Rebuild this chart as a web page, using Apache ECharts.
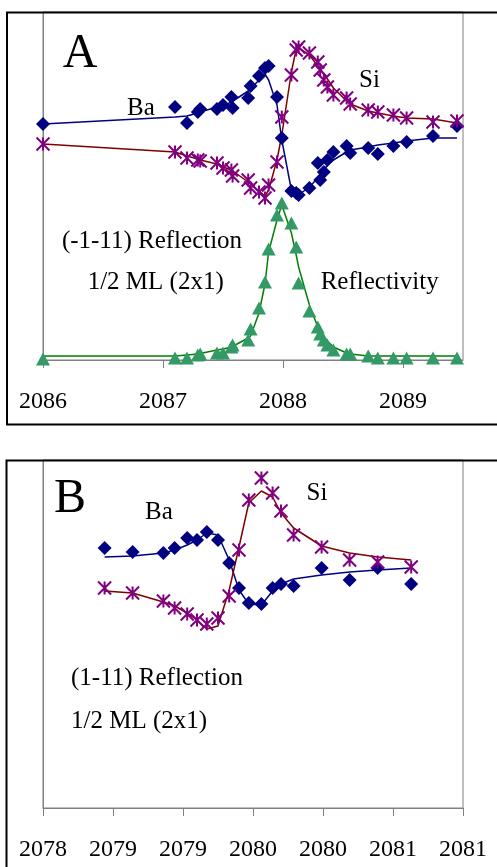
<!DOCTYPE html>
<html>
<head>
<meta charset="utf-8">
<script src="https://cdn.jsdelivr.net/npm/echarts@6/dist/echarts.min.js"></script>
<style>
  html, body { margin: 0; padding: 0; background: #fff; }
  #chart { width: 497px; height: 867px; }
</style>
</head>
<body>
<div id="chart"></div>
<script>
// panel A: (-1-11) reflection, photon energy (eV)
var xA = [2086.00, 2087.10, 2087.20, 2087.29, 2087.31, 2087.45, 2087.50, 2087.57, 2087.58, 2087.71, 2087.73,
  2087.80, 2087.85, 2087.88, 2087.95, 2087.99, 2088.07, 2088.11, 2088.13, 2088.22, 2088.29, 2088.31,
  2088.34, 2088.37, 2088.42, 2088.53, 2088.56, 2088.71, 2088.79, 2088.92, 2089.03, 2089.25, 2089.45];
var baA = [2.36, 2.53, 2.37, 2.48, 2.51, 2.51, 2.55, 2.63, 2.52, 2.62, 2.74, 2.84, 2.92, 2.94, 2.63, 2.22,
  1.69, 1.67, 1.65, 1.72, 1.97, 1.80, 1.88, 2.00, 2.08, 2.14, 2.07, 2.12, 2.06, 2.14, 2.18, 2.24, 2.34];
var baFitA = [2.36, 2.43, 2.44, 2.47, 2.48, 2.53, 2.54, 2.58, 2.59, 2.69, 2.71, 2.80, 2.86, 2.80, 2.55, 2.20,
  1.70, 1.66, 1.65, 1.73, 1.82, 1.83, 1.89, 1.95, 2.00, 2.08, 2.10, 2.13, 2.15, 2.17, 2.19, 2.22, 2.22];
var siA = [2.16, 2.08, 2.02, 2.00, 1.99, 1.97, 1.92, 1.90, 1.84, 1.80, 1.72, 1.68, 1.62, 1.75, 1.98, 2.43,
  2.85, 3.10, 3.13, 3.07, 2.98, 2.90, 2.80, 2.73, 2.65, 2.62, 2.56, 2.50, 2.48, 2.45, 2.42, 2.38, 2.39];
var siFitA = [2.16, 2.08, 2.04, 2.01, 2.00, 1.96, 1.93, 1.90, 1.90, 1.78, 1.76, 1.69, 1.64, 1.70, 2.00, 2.25,
  2.88, 3.11, 3.12, 3.05, 2.94, 2.91, 2.86, 2.81, 2.72, 2.59, 2.56, 2.49, 2.47, 2.44, 2.42, 2.41, 2.37];
var refA = [0.01, 0.02, 0.02, 0.05, 0.06, 0.07, 0.07, 0.13, 0.15, 0.20, 0.31, 0.52, 0.78, 1.11, 1.45, 1.57,
  1.37, 1.13, 0.77, 0.49, 0.33, 0.26, 0.20, 0.15, 0.10, 0.06, 0.06, 0.04, 0.02, 0.02, 0.02, 0.02, 0.02];
var refFitA = [0.04, 0.04, 0.05, 0.06, 0.065, 0.10, 0.11, 0.13, 0.13, 0.22, 0.24, 0.47, 0.76, 1.08, 1.40, 1.55,
  1.27, 1.05, 0.93, 0.55, 0.33, 0.29, 0.23, 0.19, 0.13, 0.07, 0.06, 0.04, 0.04, 0.04, 0.04, 0.04, 0.04];

// panel B: (1-11) reflection
var xB = [2078.44, 2078.64, 2078.86, 2078.94, 2079.03, 2079.10, 2079.17, 2079.25, 2079.33, 2079.40,
  2079.47, 2079.56, 2079.64, 2079.70, 2079.79, 2079.99, 2080.19, 2080.39, 2080.63];
var baB = [2.60, 2.56, 2.55, 2.60, 2.70, 2.68, 2.76, 2.68, 2.45, 2.20, 2.05, 2.04, 2.20, 2.24, 2.22, 2.40, 2.28, 2.40, 2.24];
var baFitB = [2.51, 2.52, 2.55, 2.58, 2.63, 2.68, 2.75, 2.73, 2.48, 2.18, 2.04, 2.03, 2.17, 2.24, 2.29, 2.33, 2.36, 2.38, 2.40];
var siB = [2.20, 2.15, 2.07, 2.00, 1.94, 1.88, 1.84, 1.90, 2.12, 2.58, 3.08, 3.30, 3.15, 2.97, 2.73, 2.61, 2.48, 2.46, 2.41];
var siFitB = [2.17, 2.15, 2.06, 2.02, 1.95, 1.88, 1.79, 1.82, 2.18, 2.61, 3.05, 3.17, 3.11, 2.95, 2.80, 2.62, 2.55, 2.51, 2.48];

var SERIF = '"Liberation Serif", "Times New Roman", serif';
var GRAY = '#808080';
var STAR = 'path://M0,0L10,10M10,0L0,10M5,0L5,10';

function pairs(xs, ys) {
  return xs.map(function (x, i) { return [x, ys[i]]; });
}

function dots(idx, xs, ys, symbol, size, color) {
  return {
    type: 'scatter', xAxisIndex: idx, yAxisIndex: idx,
    data: pairs(xs, ys), symbol: symbol, symbolSize: size,
    itemStyle: { color: color, opacity: 1, borderColor: color, borderWidth: symbol === STAR ? 2 : 0 },
    silent: true, z: 3
  };
}

function fit(idx, xs, ys, color) {
  return {
    type: 'line', xAxisIndex: idx, yAxisIndex: idx,
    data: pairs(xs, ys), showSymbol: false, symbol: 'none',
    lineStyle: { color: color, width: 1.5 }, silent: true, z: 2
  };
}

function xAxisOf(idx, min, max, interval, fmt, showMax) {
  return {
    type: 'value', gridIndex: idx, min: min, max: max, interval: interval,
    axisLine: { lineStyle: { color: GRAY, width: 1 } },
    axisTick: { length: 8, lineStyle: { color: GRAY } },
    axisLabel: {
      margin: 30, fontFamily: SERIF, fontSize: 24, color: '#000',
      showMaxLabel: showMax, showMinLabel: true, formatter: fmt
    },
    splitLine: { show: false }
  };
}

function yAxisOf(idx) {
  return {
    type: 'value', gridIndex: idx, min: 0, max: 3.48,
    axisLine: { show: true, lineStyle: { color: GRAY } },
    axisTick: { show: false }, axisLabel: { show: false }, splitLine: { show: false }
  };
}

function label(text, x, y, size, align) {
  return {
    type: 'text', x: x, y: y, z: 10,
    style: {
      text: text, fill: '#000', font: size + 'px ' + SERIF,
      align: align || 'center', verticalAlign: 'middle'
    }
  };
}

var chart = echarts.init(document.getElementById('chart'), null, { renderer: 'canvas' });

chart.setOption({
  animation: false,
  backgroundColor: '#fff',
  grid: [
    { left: 43, right: 34, top: 12, height: 348, show: true, borderColor: GRAY, borderWidth: 1 },
    { left: 43, right: 34, top: 460, height: 348, show: true, borderColor: GRAY, borderWidth: 1 }
  ],
  xAxis: [
    xAxisOf(0, 2086, 2089.5, 1, function (v) { return String(Math.round(v)); }, false),
    xAxisOf(1, 2078, 2081, 0.5, function (v) { return String(Math.round(v)); }, true)
  ],
  yAxis: [yAxisOf(0), yAxisOf(1)],
  series: [
    fit(0, xA, baFitA, '#000080'),
    fit(0, xA, siFitA, '#800000'),
    fit(0, xA, refFitA, '#008000'),
    dots(0, xA, baA, 'diamond', 14, '#000080'),
    dots(0, xA, siA, STAR, 13, '#800080'),
    dots(0, xA, refA, 'triangle', [14, 13], '#339966'),
    fit(1, xB, baFitB, '#000080'),
    fit(1, xB, siFitB, '#800000'),
    dots(1, xB, baB, 'diamond', 14, '#000080'),
    dots(1, xB, siB, STAR, 13, '#800080')
  ],
  graphic: [
    { type: 'rect', z: 20, shape: { x: 7, y: 12.5, width: 600, height: 412 },
      style: { fill: 'none', stroke: '#000', lineWidth: 2 } },
    { type: 'rect', z: 20, shape: { x: 6.5, y: 460.5, width: 600, height: 500 },
      style: { fill: 'none', stroke: '#000', lineWidth: 2 } },
    label('A', 80, 54, 48),
    label('Ba', 141, 108, 25),
    label('Si', 369.5, 80, 25),
    label('(-1-11) Reflection', 152, 241, 25),
    label('1/2 ML (2x1)', 155.7, 282.5, 25),
    label('Reflectivity', 379.7, 282, 25),
    label('B', 70, 499, 48),
    label('Ba', 159, 512, 25),
    label('Si', 317, 493, 25),
    label('(1-11) Reflection', 71, 678, 25, 'left'),
    label('1/2 ML (2x1)', 71, 721, 25, 'left')
  ]
});
</script>
</body>
</html>
